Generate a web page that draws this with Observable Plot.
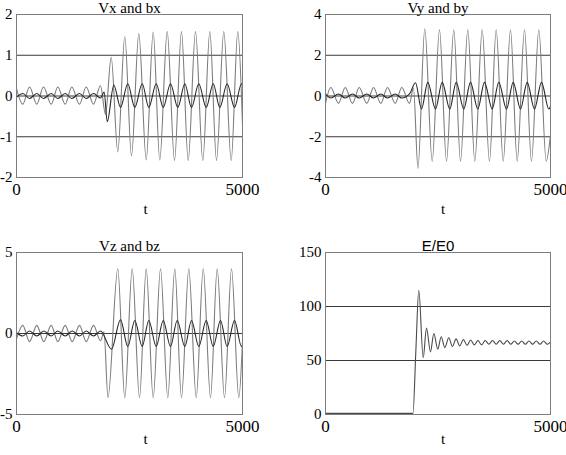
<!DOCTYPE html>
<html><head><meta charset="utf-8">
<script src="https://cdn.jsdelivr.net/npm/d3@7"></script>
<script src="https://cdn.jsdelivr.net/npm/@observablehq/plot@0.6"></script>
<style>
body{margin:0;background:#fff;}
#root{position:relative;width:566px;height:455px;overflow:hidden;background:#fff;}
#root > div{position:absolute;}
svg{display:block;}
</style></head><body><div id="root"></div>
<script>
// ---- tick labels ----
const xTicks = [0, 5000];
const yTicksX = [-2, -1, 0, 1, 2];
const yTicksY = [-4, -2, 0, 2, 4];
const yTicksZ = [-5, 0, 5];
const yTicksE = [0, 50, 100, 150];
const gridX = [-1, 0, 1];
const gridY = [-2, 0, 2];
const gridZ = [0];
const gridE = [50, 100];

// ---- Vx and bx ----
const vxT = [0,139,288,449,597,768,914,1077,1223,1394,1542,1704,1858,1969,2095,2241,2396,2544,2706,2870,3024,3170,3334,3496,3650,3799,3960,4122,4277,4425,4586,4750,4896,5000];
const vxV = [0.18,-0.20,0.22,-0.20,0.22,-0.20,0.22,-0.20,0.22,-0.20,0.22,-0.20,0.25,-0.45,0.95,-1.37,1.46,-1.47,1.53,-1.57,1.57,-1.57,1.58,-1.58,1.58,-1.58,1.58,-1.58,1.58,-1.58,1.58,-1.58,1.58,-0.7];
const bxT = [0,139,288,449,597,768,914,1077,1223,1394,1542,1704,1858,1940,2007,2153,2301,2462,2617,2781,2927,3091,3246,3407,3569,3724,3872,4033,4197,4352,4498,4660,4823,4978,5000];
const bxV = [-0.03,0.06,-0.06,0.06,-0.06,0.06,-0.06,0.06,-0.06,0.06,-0.06,0.06,-0.05,0.1,-0.63,0.27,-0.28,0.30,-0.28,0.30,-0.28,0.30,-0.28,0.30,-0.28,0.30,-0.28,0.30,-0.28,0.30,-0.28,0.30,-0.28,0.30,0.28];

// ---- Vy and by ----
const vyT = [0,118,289,438,600,749,918,1067,1229,1378,1549,1695,1866,1955,2055,2206,2371,2533,2689,2851,3000,3162,3318,3482,3644,3793,3949,4111,4260,4422,4577,4740,4904,5000];
const vyV = [-0.36,0.42,-0.36,0.42,-0.36,0.42,-0.36,0.42,-0.36,0.42,-0.36,0.42,-0.36,0.4,-3.55,3.3,-3.2,3.25,-3.2,3.25,-3.2,3.25,-3.2,3.25,-3.2,3.25,-3.2,3.25,-3.2,3.25,-3.2,3.25,-3.2,-1.9];
const byT = [0,118,289,438,600,749,918,1067,1229,1378,1549,1695,1866,2000,2133,2273,2444,2593,2762,2904,3073,3222,3384,3533,3704,3851,4022,4171,4333,4482,4644,4800,4962,5000];
const byV = [0.1,-0.1,0.1,-0.1,0.1,-0.1,0.1,-0.1,0.1,-0.1,0.1,-0.1,0.1,0.65,-0.64,0.67,-0.64,0.67,-0.64,0.67,-0.64,0.67,-0.64,0.67,-0.64,0.67,-0.64,0.67,-0.64,0.67,-0.64,0.67,-0.64,-0.5];

// ---- Vz and bz ----
const vzT = [0,139,288,449,604,768,914,1077,1232,1394,1542,1704,1858,1936,2024,2241,2396,2560,2721,2870,3024,3186,3347,3502,3650,3812,3976,4131,4292,4440,4602,4757,4918,5000];
const vzV = [-0.33,0.5,-0.5,0.5,-0.5,0.5,-0.5,0.5,-0.5,0.5,-0.5,0.5,-0.45,0.1,-3.95,4.0,-3.97,4.0,-3.97,4.0,-3.97,4.0,-3.97,4.0,-3.97,4.0,-3.97,4.0,-3.97,4.0,-3.97,4.0,-3.97,-0.5];
const bzT = [0,139,288,449,604,768,914,1077,1232,1394,1542,1704,1858,2102,2301,2462,2617,2781,2927,3091,3246,3407,3555,3724,3872,4033,4197,4352,4513,4660,4823,4978,5000];
const bzV = [0.05,-0.15,0.15,-0.15,0.15,-0.15,0.15,-0.15,0.15,-0.15,0.15,-0.15,0.15,-0.97,0.85,-0.8,0.8,-0.8,0.8,-0.8,0.8,-0.8,0.8,-0.8,0.8,-0.8,0.8,-0.8,0.8,-0.8,0.8,-0.8,-0.75];

// ---- E/E0 ----
const eT = [0,1944,2007,2073,2171,2244,2333,2407,2496,2571,2651,2740,2821,2902,2983,3064,3145,3226,3307,3388,3469,3550,3631,3712,3793,3874,3955,4036,4117,4198,4279,4360,4441,4522,4603,4684,4765,4846,4927,5000];
const eV = [1,1,58,115,52.5,80,58,75,60.5,72,62,71,63,70,63.5,69.5,64,69,64.5,68.5,64.5,68.5,65,68.5,65,68.5,65,68.5,65,68,65,68,65,68,65,68,65,68,65,67];

const toRows = (T, V) => T.map((t, i) => ({t, v: V[i]}));
const GRAY = "#7c7c7c", DARK = "#262626";
const serif = "'Liberation Serif','Times New Roman',serif";
const sans = "'Liberation Sans',Arial,sans-serif";

const panels = [
  {title: "Vx and bx", tfont: serif, left: 0, top: 0, w: 283, h: 227, ml: 16, mr: 41, mt: 14, mb: 50,
   yDomain: [-2, 2], yTicks: yTicksX, grid: gridX, tDx: 16, tDy: 36, titleDy: -2,
   series: [{d: toRows(vxT, vxV), c: GRAY}, {d: toRows(bxT, bxV), c: DARK}]},
  {title: "Vy and by", tfont: serif, left: 283, top: 0, w: 283, h: 227, ml: 42, mr: 16, mt: 14, mb: 50,
   yDomain: [-4, 4], yTicks: yTicksY, grid: gridY, tDx: 5, tDy: 36, titleDy: -2,
   series: [{d: toRows(vyT, vyV), c: GRAY}, {d: toRows(byT, byV), c: DARK}]},
  {title: "Vz and bz", tfont: serif, left: 0, top: 227, w: 283, h: 228, ml: 16, mr: 41, mt: 25, mb: 41,
   yDomain: [-5, 5], yTicks: yTicksZ, grid: gridZ, tDx: 16, tDy: 29, titleDy: -2,
   series: [{d: toRows(vzT, vzV), c: GRAY}, {d: toRows(bzT, bzV), c: DARK}]},
  {title: "E/E0", tfont: sans, left: 283, top: 227, w: 283, h: 228, ml: 42, mr: 16, mt: 25, mb: 41,
   yDomain: [0, 150], yTicks: yTicksE, grid: gridE, tDx: 5, tDy: 29, titleDy: -2,
   series: [{d: toRows(eT, eV), c: "#4a4a4a"}]}
];

const root = document.getElementById("root");
for (const p of panels) {
  const chart = Plot.plot({
    width: p.w, height: p.h,
    marginLeft: p.ml, marginRight: p.mr, marginTop: p.mt, marginBottom: p.mb,
    x: {domain: [0, 5000]},
    y: {domain: p.yDomain},
    style: {fontFamily: serif, background: "transparent", color: "#000", overflow: "visible"},
    marks: [
      Plot.ruleY(p.grid, {stroke: "#3a3a3a", strokeWidth: 1}),
      ...p.series.map(s => Plot.line(s.d, {x: "t", y: "v", stroke: s.c, strokeWidth: 1.1, curve: "monotone-x"})),
      Plot.frame({stroke: "#7d7d7d"}),
      Plot.axisY({ticks: p.yTicks, tickSize: 0, tickPadding: 4, fontSize: 15, tickFormat: d => String(d), label: null}),
      Plot.axisX({ticks: xTicks, tickSize: 0, tickPadding: 5, fontSize: 17, tickFormat: d => String(d), label: null}),
      Plot.text([p.title], {text: d => d, frameAnchor: "top", lineAnchor: "bottom", dy: p.titleDy, fontSize: 15, fontFamily: p.tfont}),
      Plot.text(["t"], {text: d => d, frameAnchor: "bottom", dx: p.tDx, dy: p.tDy, fontSize: 15})
    ]
  });
  const wrap = document.createElement("div");
  wrap.style.left = p.left + "px";
  wrap.style.top = p.top + "px";
  wrap.style.width = p.w + "px";
  wrap.style.height = p.h + "px";
  wrap.appendChild(chart);
  root.appendChild(wrap);
}
</script>
</body></html>
